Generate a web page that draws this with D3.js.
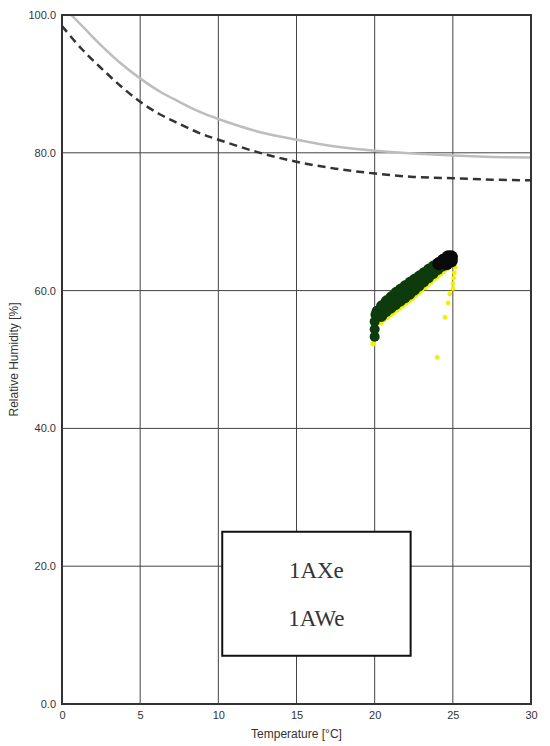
<!DOCTYPE html>
<html>
<head>
<meta charset="utf-8">
<script src="https://cdn.jsdelivr.net/npm/d3@7"></script>
<style>
  body { margin: 0; background: #fff; }
  text { font-family: "Liberation Sans", Arial, sans-serif; fill: #333; }
</style>
</head>
<body>
<div id="chart"></div>
<script>
// axis ticks
const xTicks = [0, 5, 10, 15, 20, 25, 30];
const yTicks = [0, 20, 40, 60, 80, 100];

// upper limit curve (light grey, solid)  [temperature, RH]
const solidCurve = [[0.6, 100], [1.5, 97.9], [2.5, 95.6], [3.75, 93.0], [5, 90.8], [6.25, 88.9],
    [7.5, 87.4], [8.75, 86.0], [10, 84.9], [12.5, 83.1], [15, 81.9], [17.5, 80.9], [20, 80.3],
    [22.5, 79.9], [25, 79.6], [27.5, 79.4], [30, 79.3]];

// lower limit curve (dark, dashed)
const dashedCurve = [[0, 98.4], [1.25, 95.1], [2.5, 92.3], [3.75, 89.7], [5, 87.4], [6.25, 85.6],
    [7.5, 84.2], [8.75, 82.9], [10, 81.9], [12.5, 80.1], [15, 78.7], [17.5, 77.7], [20, 77.0],
    [22.5, 76.5], [25, 76.3], [27.5, 76.1], [30, 76.0]];

// measured points, yellow series (lower fringe of the band + falling drops)
const yellowPts = [[19.9, 52.3], [20.0, 53.0], [20.4, 55.35], [20.6, 55.8], [20.8, 56.15], [21.0, 56.5],
    [21.2, 56.85], [21.4, 57.2], [21.6, 57.5], [21.8, 57.85], [22.0, 58.2], [22.2, 58.55], [22.4, 58.9],
    [22.6, 59.3], [22.8, 59.7], [23.0, 60.1], [23.2, 60.5], [23.4, 60.9], [23.6, 61.3], [23.8, 61.7],
    [24.0, 62.1], [24.2, 62.45], [24.4, 62.8], [24.6, 63.2], [24.8, 63.55], [25.0, 63.9]];
const yellowDrops = [[25.15, 64.2], [25.15, 63.4], [25.1, 62.6], [25.05, 61.8], [25.0, 61.0], [25.0, 60.3],
    [24.8, 59.5], [24.7, 58.2], [24.5, 56.1], [24.0, 50.3]];

// measured points, dark green series
const greenStub = [[20.0, 53.3], [20.0, 54.4], [20.0, 55.5], [20.05, 56.5]];
const greenUpper = [[20.2, 56.9], [20.5, 57.7], [20.8, 58.4], [21.1, 59.0], [21.4, 59.6], [21.7, 60.1],
    [22.0, 60.6], [22.3, 61.1], [22.6, 61.55], [22.9, 62.0], [23.2, 62.5], [23.5, 63.0], [23.8, 63.45],
    [24.1, 63.9], [24.4, 64.4], [24.6, 64.65]];
const greenLower = [[20.4, 56.4], [20.7, 57.1], [21.0, 57.6], [21.3, 58.1], [21.6, 58.6], [21.9, 59.1],
    [22.2, 59.6], [22.5, 60.2], [22.8, 60.8], [23.1, 61.4], [23.4, 62.0], [23.7, 62.6], [24.0, 63.2],
    [24.3, 63.7], [24.6, 64.3], [24.9, 64.8]];

// measured points, black series
const blackPts = [[24.1, 63.9], [24.4, 64.4], [24.7, 64.9], [24.9, 64.9], [24.9, 64.3], [24.6, 63.9]];

// legend box text
const boxLabels = ["1AXe", "1AWe"];

const margin = {top: 15, right: 19, bottom: 42, left: 62};
const totalW = 550, totalH = 746;
const width = totalW - margin.left - margin.right;
const height = totalH - margin.top - margin.bottom;

const svg = d3.select("#chart").append("svg")
    .attr("width", totalW)
    .attr("height", totalH)
    .append("g")
    .attr("transform", "translate(" + margin.left + "," + margin.top + ")");

const x = d3.scaleLinear().domain([0, 30]).range([0, width]);
const y = d3.scaleLinear().domain([0, 100]).range([height, 0]);

// grid
svg.append("g").selectAll("line.vgrid")
    .data(xTicks)
    .enter().append("line")
    .attr("x1", d => x(d)).attr("x2", d => x(d))
    .attr("y1", 0).attr("y2", height)
    .attr("stroke", "#444").attr("stroke-width", 1);

svg.append("g").selectAll("line.hgrid")
    .data(yTicks)
    .enter().append("line")
    .attr("x1", 0).attr("x2", width)
    .attr("y1", d => y(d)).attr("y2", d => y(d))
    .attr("stroke", "#444").attr("stroke-width", 1);

// axes (labels only, no tick marks)
const xAxis = d3.axisBottom(x).tickValues(xTicks).tickSize(0).tickPadding(7);
const yAxis = d3.axisLeft(y).tickValues(yTicks).tickSize(0).tickPadding(6).tickFormat(d3.format(".1f"));

svg.append("g")
    .attr("class", "x-axis")
    .attr("transform", "translate(0," + height + ")")
    .call(xAxis);

svg.append("g")
    .attr("class", "y-axis")
    .call(yAxis);

svg.selectAll(".x-axis path, .y-axis path").remove();
svg.selectAll(".x-axis text, .y-axis text")
    .style("font-family", "'Liberation Sans', Arial, sans-serif")
    .style("font-size", "11px")
    .attr("fill", "#333");

// axis titles
svg.append("text")
    .attr("x", width / 2)
    .attr("y", height + 34)
    .attr("text-anchor", "middle")
    .style("font-size", "12px")
    .text("Temperature [°C]");

svg.append("text")
    .attr("transform", "rotate(-90)")
    .attr("x", -height / 2)
    .attr("y", -44)
    .attr("text-anchor", "middle")
    .style("font-size", "12px")
    .text("Relative Humidity [%]");

// curves
const line = d3.line()
    .x(d => x(d[0]))
    .y(d => y(d[1]))
    .curve(d3.curveCatmullRom);

svg.append("path")
    .datum(solidCurve)
    .attr("d", line)
    .attr("fill", "none")
    .attr("stroke", "#bdbdbd")
    .attr("stroke-width", 2.5);

svg.append("path")
    .datum(dashedCurve)
    .attr("d", line)
    .attr("fill", "none")
    .attr("stroke", "#333")
    .attr("stroke-width", 2.5)
    .attr("stroke-dasharray", "8,5");

// scatter
function dots(data, r, color) {
    svg.append("g").selectAll("circle")
        .data(data)
        .enter().append("circle")
        .attr("cx", d => x(d[0]))
        .attr("cy", d => y(d[1]))
        .attr("r", r)
        .attr("fill", color);
}
dots(yellowPts, 2.8, "#f0f000");
dots(yellowDrops, 2.4, "#f0f000");
dots(greenStub, 5, "#0d3b0d");
dots(greenLower, 6.5, "#0d3b0d");
dots(greenUpper, 6.5, "#0d3b0d");
dots(blackPts, 6.5, "#0a0a0a");

// label box
svg.append("rect")
    .attr("x", x(10.25))
    .attr("y", y(25))
    .attr("width", x(22.3) - x(10.25))
    .attr("height", y(7) - y(25))
    .attr("fill", "#fff")
    .attr("stroke", "#111")
    .attr("stroke-width", 2);

svg.append("g").selectAll("text")
    .data(boxLabels)
    .enter().append("text")
    .attr("x", x(16.27))
    .attr("y", (d, i) => y(18.3) + i * 48)
    .attr("text-anchor", "middle")
    .style("font-family", "'Liberation Serif', 'DejaVu Serif', serif")
    .style("font-size", "23px")
    .attr("fill", "#111")
    .text(d => d);

// frame
svg.append("rect")
    .attr("x", 0).attr("y", 0)
    .attr("width", width).attr("height", height)
    .attr("fill", "none")
    .attr("stroke", "#333")
    .attr("stroke-width", 2);
</script>
</body>
</html>
